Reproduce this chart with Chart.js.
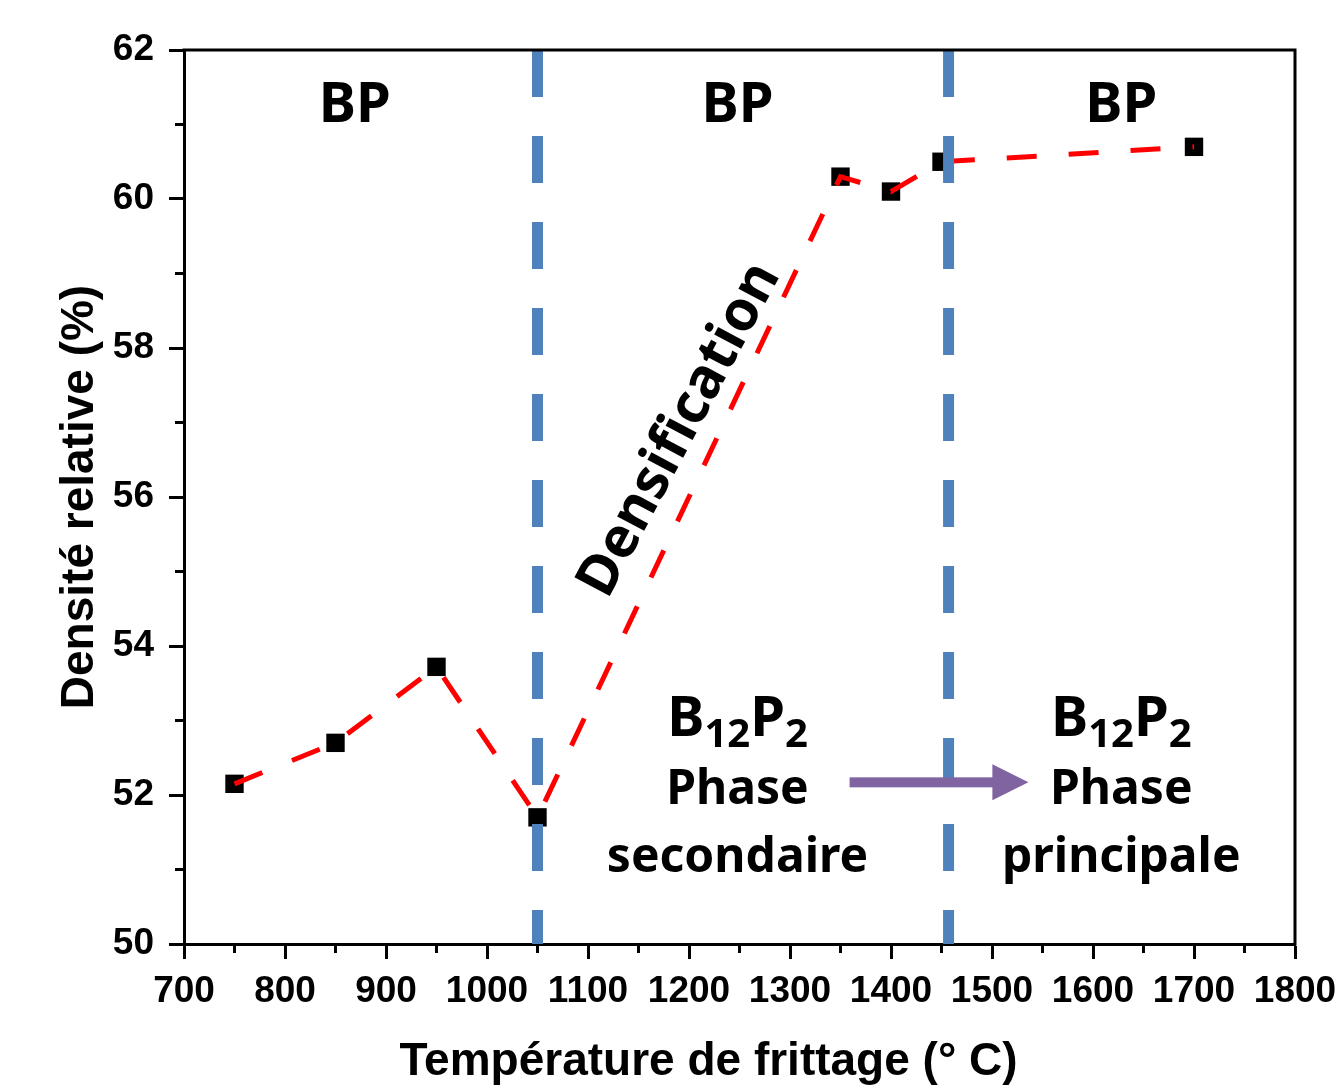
<!DOCTYPE html>
<html>
<head>
<meta charset="utf-8">
<script src="https://cdn.jsdelivr.net/npm/chart.js@4/dist/chart.umd.min.js"></script>
<style>
  body { margin: 0; background: #fff; }
  #wrap { width: 1337px; height: 1092px; position: relative; }
</style>
</head>
<body>
<div id="wrap"><canvas id="densityChart"></canvas></div>
<script>
// data
var temperatures = [750, 850, 950, 1050, 1350, 1400, 1450, 1700];
var densities = [52.15, 52.7, 53.72, 51.7, 60.3, 60.1, 60.5, 60.7];
var phaseLimits = [1050, 1457];
var xRange = [700, 1800];
var yRange = [50, 62];
var xTitle = 'Température de frittage (° C)';
var yTitle = 'Densité relative (%)';

// text labels, positioned in data units
var zoneLabels = [
    { x: 869, y: 61.25, text: 'BP' },
    { x: 1248, y: 61.25, text: 'BP' },
    { x: 1628, y: 61.25, text: 'BP' }
];
var phaseNotes = [
    { x: 1248, y: 53.0, lines: ['Phase', 'secondaire'] },
    { x: 1628, y: 53.0, lines: ['Phase', 'principale'] }
];
var densificationNote = { x: 1191, y: 56.9, text: 'Densification', angle: -62 };
var arrowFrom = [1359, 52.17];
var arrowTo = [1536, 52.17];

var labelFont = '"Noto Sans", "Open Sans", sans-serif';
var axisFont = '"Liberation Sans", Arial, sans-serif';

function limitLine(x) {
    return [{ x: x, y: yRange[1] }, { x: x, y: yRange[0] }];
}

var extrasPlugin = {
    id: 'extras',
    afterDraw: function (chart) {
        var ctx = chart.ctx;
        var area = chart.chartArea;
        var xs = chart.scales.x;
        var ys = chart.scales.y;
        ctx.save();

        // frame top & right
        ctx.strokeStyle = '#000';
        ctx.lineWidth = 3;
        ctx.beginPath();
        ctx.moveTo(area.left - 1.5, area.top);
        ctx.lineTo(area.right, area.top);
        ctx.lineTo(area.right, area.bottom + 1.5);
        ctx.stroke();

        // minor ticks
        ctx.beginPath();
        for (var v = xRange[0] + 50; v < xRange[1]; v += 100) {
            var px = xs.getPixelForValue(v);
            ctx.moveTo(px, area.bottom);
            ctx.lineTo(px, area.bottom + 9);
        }
        for (var w = yRange[0] + 1; w < yRange[1]; w += 2) {
            var py = ys.getPixelForValue(w);
            ctx.moveTo(area.left, py);
            ctx.lineTo(area.left - 9, py);
        }
        ctx.stroke();

        // x axis title (sits a little left of centre in the original)
        ctx.fillStyle = '#000';
        ctx.textAlign = 'center';
        ctx.textBaseline = 'middle';
        ctx.font = 'bold 46px ' + axisFont;
        ctx.fillText(xTitle, (area.left + area.right) / 2 - 31, 1062);

        // arrow
        var ax0 = xs.getPixelForValue(arrowFrom[0]);
        var ay0 = ys.getPixelForValue(arrowFrom[1]);
        var ax1 = xs.getPixelForValue(arrowTo[0]);
        var ay1 = ys.getPixelForValue(arrowTo[1]);
        ctx.fillStyle = '#8064A2';
        ctx.fillRect(ax0, ay0 - 5, ax1 - ax0 - 34, 10);
        ctx.beginPath();
        ctx.moveTo(ax1 - 36, ay1 - 18);
        ctx.lineTo(ax1, ay1);
        ctx.lineTo(ax1 - 36, ay1 + 18);
        ctx.closePath();
        ctx.fill();

        // labels
        ctx.fillStyle = '#000';
        ctx.font = 'bold 56px ' + labelFont;
        zoneLabels.forEach(function (l) {
            ctx.fillText(l.text, xs.getPixelForValue(l.x), ys.getPixelForValue(l.y));
        });

        phaseNotes.forEach(function (n) {
            var cx = xs.getPixelForValue(n.x);
            var cy = ys.getPixelForValue(n.y);
            // B12P2 with subscripts
            var parts = [['B', 56, 0], ['12', 40, 15], ['P', 56, 0], ['2', 40, 15]];
            var total = 0;
            parts.forEach(function (p) {
                ctx.font = 'bold ' + p[1] + 'px ' + labelFont;
                total += ctx.measureText(p[0]).width;
            });
            var x = cx - total / 2;
            ctx.textAlign = 'left';
            parts.forEach(function (p) {
                ctx.font = 'bold ' + p[1] + 'px ' + labelFont;
                ctx.fillText(p[0], x, cy + p[2]);
                x += ctx.measureText(p[0]).width;
            });
            ctx.textAlign = 'center';
            ctx.font = 'bold 48px ' + labelFont;
            ctx.fillText(n.lines[0], cx, cy + 70);
            ctx.fillText(n.lines[1], cx, cy + 138);
        });

        ctx.save();
        ctx.translate(xs.getPixelForValue(densificationNote.x), ys.getPixelForValue(densificationNote.y));
        ctx.rotate(densificationNote.angle * Math.PI / 180);
        ctx.font = 'bold 56px ' + labelFont;
        ctx.fillText(densificationNote.text, 0, 0);
        ctx.restore();

        ctx.restore();
    }
};

var ctx = document.getElementById('densityChart').getContext('2d');
new Chart(ctx, {
    type: 'scatter',
    data: {
        datasets: [
            {
                label: 'limit 1',
                data: limitLine(phaseLimits[0]),
                showLine: true,
                borderColor: '#4F81BD',
                borderWidth: 11,
                borderDash: [47, 39],
                pointRadius: 0,
                order: 0
            },
            {
                label: 'limit 2',
                data: limitLine(phaseLimits[1]),
                showLine: true,
                borderColor: '#4F81BD',
                borderWidth: 11,
                borderDash: [47, 39],
                pointRadius: 0,
                order: 0
            },
            {
                label: 'line',
                data: temperatures.map(function (t, i) { return { x: t, y: densities[i] }; }),
                showLine: true,
                borderColor: '#FF0000',
                borderWidth: 5,
                borderDash: [30, 32],
                pointRadius: 0,
                order: 1
            },
            {
                label: 'Densité relative',
                data: temperatures.map(function (t, i) { return { x: t, y: densities[i] }; }),
                showLine: false,
                pointStyle: 'rect',
                pointRadius: 13,
                pointBackgroundColor: '#000',
                pointBorderColor: '#000',
                pointBorderWidth: 0,
                order: 2
            }
        ]
    },
    options: {
        responsive: true,
        maintainAspectRatio: false,
        animation: false,
        layout: { padding: { left: 53, top: 50, right: 42, bottom: 0 } },
        plugins: {
            legend: { display: false },
            tooltip: { enabled: false }
        },
        scales: {
            x: {
                type: 'linear',
                min: xRange[0],
                max: xRange[1],
                ticks: {
                    stepSize: 100,
                    color: '#000',
                    padding: 11,
                    maxRotation: 0,
                    autoSkip: false,
                    font: { family: axisFont, size: 37, weight: 'bold' },
                    callback: function (value) { return String(value); }
                },
                grid: {
                    drawOnChartArea: false,
                    drawTicks: true,
                    tickLength: 15,
                    tickWidth: 3,
                    tickColor: '#000'
                },
                border: { display: true, color: '#000', width: 3 },
                afterFit: function (scale) {
                    scale.height = 148;
                    scale.paddingLeft = 0;
                    scale.paddingRight = 0;
                }
            },
            y: {
                type: 'linear',
                min: yRange[0],
                max: yRange[1],
                ticks: {
                    stepSize: 2,
                    color: '#000',
                    padding: 15,
                    font: { family: axisFont, size: 37, weight: 'bold' },
                    callback: function (value) { return String(value); }
                },
                grid: {
                    drawOnChartArea: false,
                    drawTicks: true,
                    tickLength: 15,
                    tickWidth: 3,
                    tickColor: '#000'
                },
                border: { display: true, color: '#000', width: 3 },
                title: {
                    display: true,
                    text: yTitle,
                    color: '#000',
                    font: { family: axisFont, size: 46, weight: 'bold' },
                    padding: { top: 0, bottom: 0 }
                },
                afterFit: function (scale) {
                    scale.width = 131;
                    scale.paddingTop = 0;
                    scale.paddingBottom = 0;
                }
            }
        }
    },
    plugins: [extrasPlugin]
});
</script>
</body>
</html>
